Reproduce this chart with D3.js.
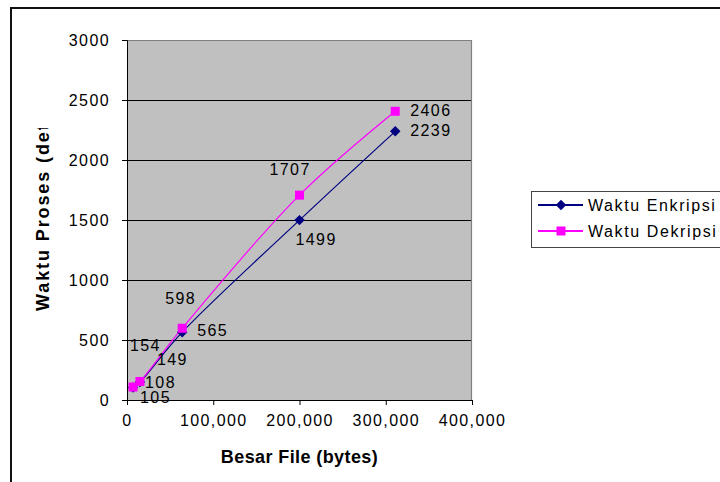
<!DOCTYPE html>
<html>
<head>
<meta charset="utf-8">
<script src="https://cdn.jsdelivr.net/npm/d3@7"></script>
<style>
  body { margin: 0; background: #fff; }
  text { font-family: "Liberation Sans", Arial, sans-serif; }
</style>
</head>
<body>
<svg id="chart"></svg>
<script>
const fileSizes = [7000, 15000, 64000, 200000, 311000];
const enkripsi = [105, 149, 565, 1499, 2239];
const dekripsi = [108, 154, 598, 1707, 2406];
const xTicks = [0, 100000, 200000, 300000, 400000];
const yTicks = [0, 500, 1000, 1500, 2000, 2500, 3000];
const seriesNames = ["Waktu Enkripsi", "Waktu Dekripsi"];

// label offsets from each point (left edge, vertical middle)
const enkOff = [[7, 10], [17, -23], [15, -2], [-4, 19], [15, -1]];
const dekOff = [[12, -5], [-10, -36], [-17, -30], [-30, -26], [15, -1]];

const W = 720, H = 482;
const M = { top: 40, left: 127, right: 248, bottom: 82 };
const PW = W - M.left - M.right, PH = H - M.top - M.bottom;
const FS = 16, LS = 1.4;

const svg = d3.select("#chart").attr("width", W).attr("height", H);

// outer chart frame (cropped on right / bottom)
svg.append("path")
  .attr("d", `M11,${H} L11,8 L${W},8`)
  .attr("fill", "none").attr("stroke", "#111").attr("stroke-width", 2);

const x = d3.scaleLinear().domain([0, 400000]).range([0, PW]);
const y = d3.scaleLinear().domain([0, 3000]).range([PH, 0]);

const g = svg.append("g").attr("transform", `translate(${M.left},${M.top})`);

g.append("rect").attr("width", PW).attr("height", PH).attr("fill", "#c0c0c0");

// gridlines
g.selectAll(".grid").data(yTicks.filter(d => d > 0 && d < 3000)).enter()
  .append("line")
  .attr("x1", 0).attr("x2", PW)
  .attr("y1", d => y(d) + 0.5).attr("y2", d => y(d) + 0.5)
  .attr("stroke", "#000").attr("stroke-width", 1);

// plot frame top/right
g.append("path")
  .attr("d", `M0,0.5 L${PW - 0.5},0.5 L${PW - 0.5},${PH}`)
  .attr("fill", "none").attr("stroke", "#808080").attr("stroke-width", 1.2);

g.append("g")
  .attr("transform", `translate(0,${PH})`)
  .call(d3.axisBottom(x).tickValues(xTicks).tickFormat(d3.format(",")).tickSize(5).tickPadding(10))
  .call(a => a.select(".domain").attr("stroke", "#000"))
  .call(a => a.selectAll(".tick line").attr("stroke", "#000"))
  .selectAll("text")
  .attr("fill", "#000").attr("font-size", FS).attr("letter-spacing", LS)
  .attr("font-family", "Liberation Sans, Arial, sans-serif");

g.append("g")
  .call(d3.axisLeft(y).tickValues(yTicks).tickFormat(d3.format("d")).tickSize(5).tickPadding(12))
  .call(a => a.select(".domain").attr("stroke", "#000"))
  .call(a => a.selectAll(".tick line").attr("stroke", "#000"))
  .selectAll("text")
  .attr("fill", "#000").attr("font-size", FS).attr("letter-spacing", LS)
  .attr("font-family", "Liberation Sans, Arial, sans-serif");

const line = d3.line()
  .x(d => x(d[0]))
  .y(d => y(d[1]))
  .curve(d3.curveCatmullRom.alpha(0.5));

const enkData = fileSizes.map((f, i) => [f, enkripsi[i]]);
const dekData = fileSizes.map((f, i) => [f, dekripsi[i]]);

g.append("path").datum(enkData)
  .attr("fill", "none").attr("stroke", "#000080").attr("stroke-width", 1.2)
  .attr("d", line);

g.append("path").datum(dekData)
  .attr("fill", "none").attr("stroke", "#ff00ff").attr("stroke-width", 1.2)
  .attr("d", line);

const diamond = d3.symbol().type(d3.symbolDiamond2).size(70);

g.selectAll(".dot-enk").data(enkData).enter()
  .append("path")
  .attr("class", "dot-enk")
  .attr("transform", d => `translate(${x(d[0])},${y(d[1])})`)
  .attr("d", diamond)
  .attr("fill", "#000080");

g.selectAll(".dot-dek").data(dekData).enter()
  .append("rect")
  .attr("class", "dot-dek")
  .attr("x", d => x(d[0]) - 4.5)
  .attr("y", d => y(d[1]) - 4.5)
  .attr("width", 9).attr("height", 9)
  .attr("fill", "#ff00ff");

// data labels
g.selectAll(".lbl-enk").data(enkData).enter()
  .append("text")
  .attr("x", (d, i) => x(d[0]) + enkOff[i][0])
  .attr("y", (d, i) => y(d[1]) + enkOff[i][1])
  .attr("dominant-baseline", "central")
  .attr("font-size", FS).attr("letter-spacing", LS)
  .text(d => d[1]);

g.selectAll(".lbl-dek").data(dekData).enter()
  .append("text")
  .attr("x", (d, i) => x(d[0]) + dekOff[i][0])
  .attr("y", (d, i) => y(d[1]) + dekOff[i][1])
  .attr("dominant-baseline", "central")
  .attr("font-size", FS).attr("letter-spacing", LS)
  .text(d => d[1]);

// axis titles
svg.append("text")
  .attr("x", M.left + PW / 2).attr("y", 463)
  .attr("text-anchor", "middle")
  .attr("font-size", 18).attr("font-weight", "bold").attr("letter-spacing", 0.4)
  .text("Besar File (bytes)");

svg.append("clipPath").attr("id", "yclip")
  .append("rect").attr("x", 0).attr("y", 128).attr("width", 80).attr("height", 300);

svg.append("g").attr("clip-path", "url(#yclip)")
  .append("text")
  .attr("transform", `translate(49,311) rotate(-90)`)
  .attr("text-anchor", "start")
  .attr("font-size", 18).attr("font-weight", "bold").attr("letter-spacing", 1.9)
  .text("Waktu Proses (detik)");

// legend
const lg = svg.append("g").attr("transform", "translate(531,191)");
lg.append("rect").attr("x", 0.5).attr("y", 0.5).attr("width", 200).attr("height", 56)
  .attr("fill", "#fff").attr("stroke", "#444").attr("stroke-width", 1);

const legendColors = ["#000080", "#ff00ff"];
seriesNames.forEach((name, i) => {
  const yy = 14 + i * 26;
  lg.append("line").attr("x1", 7).attr("x2", 52).attr("y1", yy).attr("y2", yy)
    .attr("stroke", legendColors[i]).attr("stroke-width", 2);
  if (i === 0) {
    lg.append("path").attr("transform", `translate(30,${yy})`).attr("d", diamond)
      .attr("fill", legendColors[i]);
  } else {
    lg.append("rect").attr("x", 25.5).attr("y", yy - 4.5).attr("width", 9).attr("height", 9)
      .attr("fill", legendColors[i]);
  }
  lg.append("text").attr("x", 57).attr("y", yy).attr("dominant-baseline", "central")
    .attr("font-size", FS).attr("letter-spacing", 1.6).text(name);
});
</script>
</body>
</html>
